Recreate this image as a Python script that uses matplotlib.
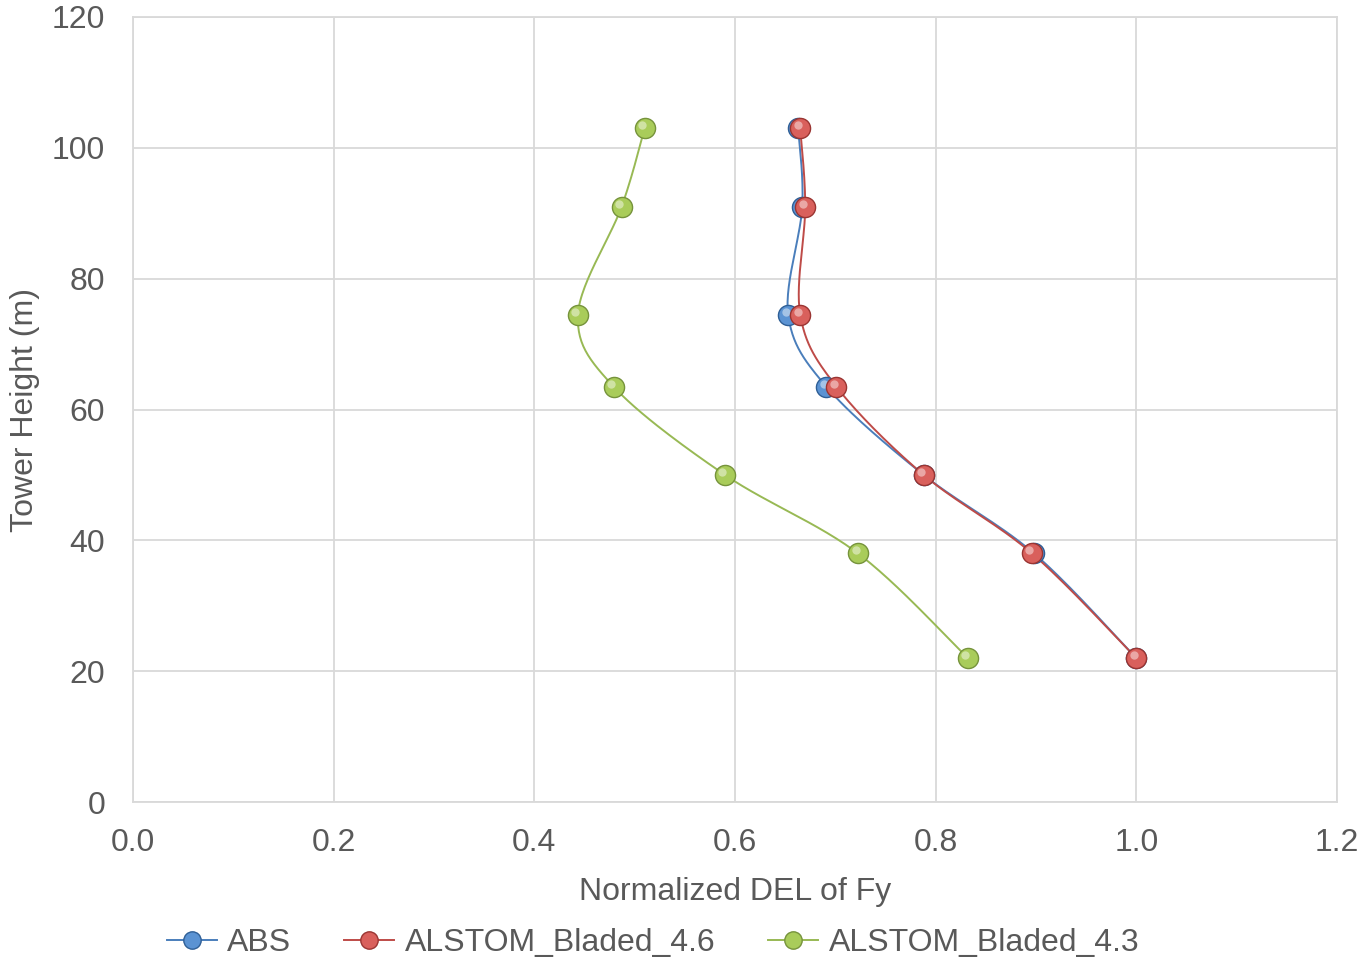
import numpy as np
import matplotlib
matplotlib.use("Agg")
import matplotlib.pyplot as plt
from matplotlib.lines import Line2D
import matplotlib.transforms as mtrans

heights = [103, 91, 74.5, 63.5, 50, 38, 22]
abs_vals = [0.663, 0.667, 0.653, 0.691, 0.788, 0.898, 1.0]
bladed46 = [0.665, 0.670, 0.665, 0.701, 0.788, 0.896, 1.0]
bladed43 = [0.510, 0.487, 0.4435, 0.479, 0.590, 0.7226, 0.832]
series_names = ["ABS", "ALSTOM_Bladed_4.6", "ALSTOM_Bladed_4.3"]
x_ticks = [0.0, 0.2, 0.4, 0.6, 0.8, 1.0, 1.2]
y_ticks = [0, 20, 40, 60, 80, 100, 120]

line_colors = ["#4a7ebb", "#be4b48", "#98b954"]
face_colors = ["#5b93d3", "#d9605c", "#a9cc5a"]
edge_colors = ["#2f5f96", "#9a3532", "#76933c"]

plt.rcParams['font.family'] = ['Liberation Sans', 'DejaVu Sans']
TXT = "#595959"
FS = 23

fig = plt.figure(figsize=(13.66, 9.59), dpi=100)
ax = fig.add_axes([133/1366, 1-802/959, (1337-133)/1366, (802-17)/959])
ax.set_xlim(0, 1.2)
ax.set_ylim(0, 120)
ax.set_xticks(x_ticks)
ax.set_yticks(y_ticks)
ax.set_xticklabels([f"{v:.1f}" for v in x_ticks])
ax.set_yticklabels([str(v) for v in y_ticks])
ax.tick_params(axis="x", length=0, labelsize=FS, colors=TXT, pad=19)
ax.tick_params(axis="y", length=0, labelsize=FS, colors=TXT, pad=20)
ax.grid(True, color="#d9d9d9", linewidth=1.3)
ax.set_axisbelow(True)
for s in ax.spines.values():
    s.set_color("#d9d9d9")
    s.set_linewidth(1.3)
ax.set_xlabel("Normalized DEL of Fy", fontsize=FS, color=TXT)
ax.set_ylabel("Tower Height (m)", fontsize=FS, color=TXT)
ax.xaxis.set_label_coords(0.5, -0.096)
ax.yaxis.set_label_coords(-0.077, 0.5)

W, H = 1204.0, 785.0

def smooth(xs, ys, n=30):
    # Excel-like smoothing (Bezier with Catmull-Rom control points) in pixel space
    px = np.array(xs) / 1.2 * W
    py = np.array(ys) / 120 * H
    P = np.column_stack([px, py])
    out = []
    m = len(P)
    for i in range(m - 1):
        p0 = P[i - 1] if i > 0 else P[i]
        p1 = P[i]
        p2 = P[i + 1]
        p3 = P[i + 2] if i + 2 < m else P[i + 1]
        c1 = p1 + (p2 - p0) / 6
        c2 = p2 - (p3 - p1) / 6
        t = np.linspace(0, 1, n)[:, None]
        seg = (1-t)**3*p1 + 3*(1-t)**2*t*c1 + 3*(1-t)*t**2*c2 + t**3*p2
        out.append(seg if i == 0 else seg[1:])
    S = np.vstack(out)
    return S[:, 0] / W * 1.2, S[:, 1] / H * 120

shift = ax.transData + mtrans.ScaledTranslation(-2.5/100, 3/100, fig.dpi_scale_trans)
data = [abs_vals, bladed46, bladed43]
for k, vals in enumerate(data):
    sx, sy = smooth(vals, heights)
    ax.plot(sx, sy, color=line_colors[k], lw=1.4, zorder=3)
    ax.plot(vals, heights, ls="none", marker="o", ms=14.5, mfc=face_colors[k],
            mec=edge_colors[k], mew=1.0, zorder=4 + k)
    ax.plot(vals, heights, ls="none", marker="o", ms=6, mfc="white", mec="none",
            alpha=0.45, zorder=4 + k, transform=shift)

handles = [Line2D([0], [0], color=line_colors[k], lw=1.4, marker="o", ms=12.5,
                  mfc=face_colors[k], mec=edge_colors[k], mew=1.0) for k in range(3)]
fig.legend(handles, series_names, loc="center", bbox_to_anchor=(0.478, 1 - 943/959),
           ncol=3, frameon=False, fontsize=FS, labelcolor=TXT, handlelength=1.57,
           handletextpad=0.33, columnspacing=1.65)

fig.savefig("out.png", dpi=100)
